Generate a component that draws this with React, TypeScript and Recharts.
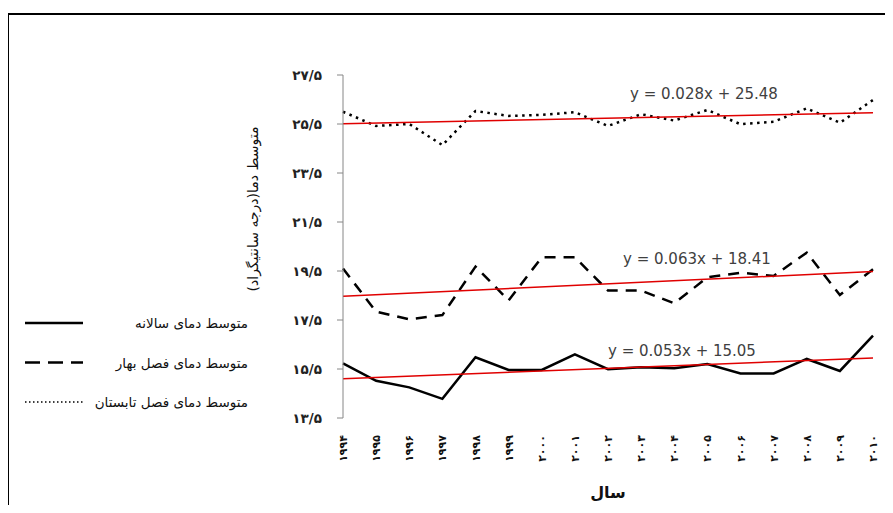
import React from "react";
import {
  LineChart,
  Line,
  XAxis,
  YAxis,
  ReferenceLine,
  Legend,
} from "recharts";

// years, in Persian digits as printed on the axis
const years = [
  "۱۹۹۴", "۱۹۹۵", "۱۹۹۶", "۱۹۹۷", "۱۹۹۸", "۱۹۹۹", "۲۰۰۰", "۲۰۰۱", "۲۰۰۲",
  "۲۰۰۳", "۲۰۰۴", "۲۰۰۵", "۲۰۰۶", "۲۰۰۷", "۲۰۰۸", "۲۰۰۹", "۲۰۱۰",
];

const annual = [
  15.73, 15.02, 14.75, 14.28, 15.98, 15.46, 15.46, 16.1, 15.49, 15.57, 15.53,
  15.7, 15.32, 15.32, 15.91, 15.42, 16.86,
];
const spring = [
  19.6, 17.84, 17.53, 17.7, 19.68, 18.3, 20.06, 20.06, 18.7, 18.7, 18.18,
  19.24, 19.43, 19.3, 20.25, 18.52, 19.57,
];
const summer = [
  26.0, 25.42, 25.5, 24.64, 26.03, 25.83, 25.87, 25.98, 25.42, 25.9, 25.64,
  26.07, 25.49, 25.59, 26.14, 25.55, 26.48,
];

// trend lines: value at first and last year
const annualTrend = [15.1, 15.95];
const springTrend = [18.47, 19.48];
const summerTrend = [25.51, 25.96];

const equations = ["y = 0.053x + 15.05", "y = 0.063x + 18.41", "y = 0.028x + 25.48"];

const yTicks = [13.5, 15.5, 17.5, 19.5, 21.5, 23.5, 25.5, 27.5];
const yTickLabels = ["۱۳/۵", "۱۵/۵", "۱۷/۵", "۱۹/۵", "۲۱/۵", "۲۳/۵", "۲۵/۵", "۲۷/۵"];

const seriesNames = [
  "متوسط دمای سالانه",
  "متوسط دمای فصل بهار",
  "متوسط دمای فصل تابستان",
];

const rows = years.map((year, i) => ({
  year,
  annual: annual[i],
  spring: spring[i],
  summer: summer[i],
}));

const gridTicks = Array.from({ length: years.length + 1 }, (_, i) => i);

const FA = "DejaVu Sans";

const YearTick = ({ x, y, payload }: any) => (
  <g transform={`translate(${x},${y + 9})`}>
    <text
      transform="rotate(-90)"
      x={0}
      y={0}
      dy={4}
      textAnchor="end"
      fontSize={11}
      fontWeight="bold"
      fontFamily={FA}
      fill="#111"
    >
      {payload.value}
    </text>
  </g>
);

const legendStyles = [
  { dash: undefined, width: 2.5 },
  { dash: "15 8", width: 2.5 },
  { dash: "1.5 2.5", width: 1.5 },
];

const LegendBox = () => (
  <svg width={240} height={110}>
    {seriesNames.map((name, i) => {
      const cy = 15 + i * 39.5;
      return (
        <g key={name}>
          <line
            x1={3}
            x2={61}
            y1={cy}
            y2={cy}
            stroke="#000"
            strokeWidth={legendStyles[i].width}
            strokeDasharray={legendStyles[i].dash}
          />
          <text
            x={226}
            y={cy}
            dominantBaseline="central"
            textAnchor="end"
            fontSize={13.5}
            fontFamily={FA}
            fill="#111"
          >
            {name}
          </text>
        </g>
      );
    })}
  </svg>
);

const eqLabel = (value: string, dx: number, dy: number) => ({
  value,
  position: "center" as const,
  dx,
  dy,
  fill: "#404040",
  fontSize: 15,
  fontFamily: "DejaVu Sans",
});

export default function App() {
  const first = years[0];
  const last = years[years.length - 1];
  return (
    <div
      style={{
        position: "relative",
        width: 885,
        height: 497,
        overflow: "hidden",
        background: "#fff",
      }}
    >
      <div
        style={{
          position: "absolute",
          left: -1,
          top: 5,
          width: 1000,
          height: 1000,
          border: "2px solid #000",
        }}
      />
      <LineChart
        width={885}
        height={497}
        data={rows}
        margin={{ top: 67, right: 20, left: 0, bottom: 0 }}
      >
        <XAxis
          xAxisId="grid"
          type="number"
          domain={[0, years.length]}
          ticks={gridTicks}
          tick={false}
          height={0}
          tickSize={6}
          stroke="#868686"
          allowDataOverflow
        />
        <XAxis
          xAxisId="cat"
          dataKey="year"
          axisLine={false}
          tickLine={false}
          interval={0}
          height={87}
          tick={<YearTick />}
          label={{
            value: "سال",
            position: "insideBottom",
            offset: 7,
            fontSize: 16,
            fontWeight: "bold",
            fontFamily: FA,
            fill: "#111",
          }}
        />
        <YAxis
          width={335}
          domain={[13.5, 27.5]}
          ticks={yTicks}
          interval={0}
          tickSize={6}
          tickMargin={15}
          stroke="#868686"
          tickFormatter={(v: number) => yTickLabels[yTicks.indexOf(v)]}
          tick={{ fontSize: 13.5, fontWeight: "bold", fill: "#222", fontFamily: FA }}
          label={{
            content: () => (
              <text
                transform="translate(245,201) rotate(-90)"
                textAnchor="middle"
                dominantBaseline="central"
                direction="rtl"
                fontSize={14}
                fontFamily={FA}
                fill="#111"
              >
                متوسط دما(درجه سانتیگراد)
              </text>
            ),
          }}
        />
        <Legend
          layout="horizontal"
          verticalAlign="middle"
          align="center"
          wrapperStyle={{ left: 14, top: 300, width: 240 }}
          content={() => <LegendBox />}
        />
        <Line
          xAxisId="cat"
          dataKey="summer"
          stroke="#000"
          strokeWidth={2.5}
          strokeDasharray="2.5 4.5"
          dot={false}
          isAnimationActive={false}
        />
        <Line
          xAxisId="cat"
          dataKey="spring"
          stroke="#000"
          strokeWidth={2.5}
          strokeDasharray="11 8"
          dot={false}
          isAnimationActive={false}
        />
        <Line
          xAxisId="cat"
          dataKey="annual"
          stroke="#000"
          strokeWidth={2.5}
          dot={false}
          isAnimationActive={false}
        />
        <ReferenceLine
          xAxisId="cat"
          segment={[
            { x: first, y: summerTrend[0] },
            { x: last, y: summerTrend[1] },
          ]}
          stroke="#e00000"
          strokeWidth={1.5}
          label={eqLabel(equations[2], 96, -25)}
        />
        <ReferenceLine
          xAxisId="cat"
          segment={[
            { x: first, y: springTrend[0] },
            { x: last, y: springTrend[1] },
          ]}
          stroke="#e00000"
          strokeWidth={1.5}
          label={eqLabel(equations[1], 89, -25)}
        />
        <ReferenceLine
          xAxisId="cat"
          segment={[
            { x: first, y: annualTrend[0] },
            { x: last, y: annualTrend[1] },
          ]}
          stroke="#e00000"
          strokeWidth={1.5}
          label={eqLabel(equations[0], 74, -18)}
        />
      </LineChart>
    </div>
  );
}
